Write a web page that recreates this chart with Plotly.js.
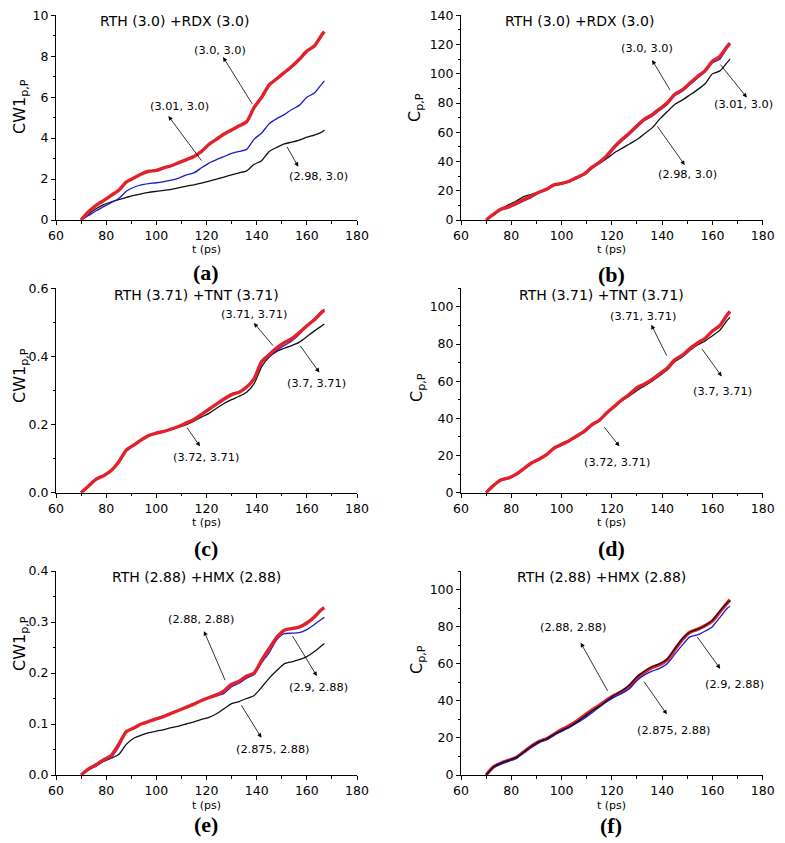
<!DOCTYPE html>
<html>
<head>
<meta charset="utf-8">
<script src="https://cdn.plot.ly/plotly-3.0.1.min.js"></script>
<style>html,body{margin:0;padding:0;background:#fff;} #chart{width:785px;height:843px;}</style>
</head>
<body>
<div id="chart"></div>
<script>
// ---- data (t in ps) ----
var t = [70,73,76,79,82,85,88,91,94,97,100,103,106,109,112,115,118,121,124,127,130,133,136,139,142,145,148,151,154,157,160,163,166,167];

// (a) CW1 p,P  RTH(3.0)+RDX(3.0)
var aRed   = [0,0.4,0.72,0.95,1.2,1.45,1.85,2.05,2.25,2.38,2.42,2.55,2.65,2.8,2.95,3.1,3.35,3.7,3.95,4.2,4.4,4.6,4.8,5.5,6.0,6.6,6.9,7.2,7.5,7.85,8.25,8.5,9.05,9.2];
var aBlue  = [0,0.22,0.45,0.65,0.85,1.05,1.4,1.6,1.72,1.78,1.82,1.88,1.95,2.05,2.2,2.3,2.55,2.78,2.95,3.1,3.25,3.35,3.45,3.95,4.25,4.7,4.95,5.15,5.4,5.6,6.0,6.2,6.65,6.8];
var aBlack = [0,0.3,0.55,0.75,0.88,1.0,1.1,1.2,1.28,1.35,1.4,1.45,1.5,1.58,1.66,1.72,1.8,1.9,2.0,2.1,2.2,2.3,2.4,2.72,2.9,3.35,3.55,3.72,3.8,3.9,4.05,4.15,4.3,4.4];
// (b) C p,P  RTH(3.0)+RDX(3.0)
var bRed   = [0,4,7.5,9,11.5,14,16.5,19,21,24,25,26.5,29,31.5,36,39.5,44,50,55,59.5,64.5,69,72,76,80,86,89,93.5,98,102,108.5,112,119,121];
var bBlue  = [0,3.5,7,8.5,10.5,13,15.5,18.5,20.5,23.5,24.5,26,28.5,31,35,39,43,49,54,58.5,63.5,68,71,75,79,85,88,92.5,97,101,107.5,110,118,119.5];
var bBlack = [0,4,7.5,10.5,13,16,17.5,19,21,23.5,24.5,26,28.5,31,35.5,38.5,42,46,49,52,55,59,63,69,74,79,82,85.5,89,93,100,102,108,110];
// (c) CW1 p,P  RTH(3.71)+TNT(3.71)
var cRed   = [0,0.02,0.04,0.05,0.065,0.09,0.125,0.14,0.155,0.168,0.175,0.18,0.187,0.195,0.205,0.215,0.23,0.245,0.26,0.275,0.288,0.295,0.31,0.335,0.385,0.405,0.425,0.44,0.452,0.47,0.49,0.508,0.53,0.535];
var cBlue  = [0,0.018,0.038,0.05,0.063,0.088,0.122,0.138,0.153,0.166,0.174,0.179,0.185,0.193,0.203,0.213,0.228,0.245,0.262,0.277,0.29,0.296,0.31,0.333,0.38,0.4,0.418,0.432,0.445,0.465,0.488,0.51,0.533,0.538];
var cBlack = [0,0.02,0.04,0.05,0.065,0.09,0.125,0.14,0.155,0.168,0.175,0.18,0.186,0.193,0.2,0.21,0.222,0.233,0.248,0.262,0.273,0.283,0.295,0.32,0.37,0.398,0.415,0.424,0.432,0.442,0.458,0.475,0.49,0.495];
// (d) C p,P  RTH(3.71)+TNT(3.71)
var dRed   = [0,4,7,8,10,13,16,18,20.5,24,26,28,30.5,33,36.5,39,43,46.5,50,53,56.5,58.5,61,64,67,71.5,74,77.5,80.5,83,87,90,96,97.5];
var dBlue  = [0,3.5,6.5,7.5,9.5,12.5,15.5,17.5,20,23.5,25.5,27.5,30,32.5,36,38.5,42.5,46,49.5,52.5,56,58,60.5,63.5,66.5,71,73.5,77,80,82.5,86.5,89.5,95.5,97.5];
var dBlack = [0,4,7,8,10,13,16,18,20.5,24,26,28,30.5,33,36.5,39,43,46,49.5,52,55,57.5,60,63,66,70.5,73,76.5,79.5,81.5,84.5,87.5,93,94.5];
// (e) CW1 p,P  RTH(2.88)+HMX(2.88)
var eRed   = [0,0.012,0.02,0.03,0.038,0.06,0.085,0.092,0.1,0.105,0.11,0.115,0.121,0.127,0.133,0.139,0.146,0.152,0.157,0.165,0.178,0.184,0.194,0.2,0.225,0.248,0.27,0.284,0.287,0.29,0.298,0.31,0.325,0.328];
var eBlue  = [0,0.01,0.018,0.027,0.035,0.055,0.085,0.092,0.1,0.105,0.11,0.115,0.121,0.127,0.133,0.139,0.146,0.151,0.155,0.16,0.173,0.18,0.19,0.197,0.22,0.24,0.265,0.277,0.278,0.279,0.285,0.295,0.306,0.309];
var eBlack = [0,0.01,0.018,0.027,0.033,0.04,0.06,0.072,0.078,0.083,0.086,0.089,0.093,0.096,0.1,0.104,0.109,0.113,0.12,0.13,0.14,0.144,0.15,0.156,0.172,0.19,0.205,0.218,0.222,0.226,0.232,0.242,0.254,0.258];
// (f) C p,P  RTH(2.88)+HMX(2.88)
var fRed   = [0,4.5,6.5,8,9.5,12.5,15.5,18,19.5,22,24.5,26.5,29,32,35,37.5,40.5,43,45,48,52.5,55.5,58,59.5,62,67.5,73,77,78.5,80.5,83,88,93,94.5];
var fBlue  = [0,4,6,7.5,9,12,15,17.5,19,21.5,23.5,25.5,28,30.5,33.5,36.5,39.5,42,44,46.5,51,54,56,57.5,60,65,70,74.5,75.5,77.5,80,85,90,91];
var fBlack = [0,4.5,6.5,8,9.5,12.5,15.5,18,19.5,22,24,26,28.5,31.5,34.5,37,40,43,45.5,48.5,53,56,58.5,60,62.5,68,73.5,77,78.5,80.5,83.5,88.5,93,94];

var panelTitles = ["RTH (3.0) +RDX (3.0)","RTH (3.0) +RDX (3.0)","RTH (3.71) +TNT (3.71)","RTH (3.71) +TNT (3.71)","RTH (2.88) +HMX (2.88)","RTH (2.88) +HMX (2.88)"];
var panelLetters = ["(a)","(b)","(c)","(d)","(e)","(f)"];
var yTitles = ["CW1<sub>p,P</sub>","C<sub>p,P</sub>","CW1<sub>p,P</sub>","C<sub>p,P</sub>","CW1<sub>p,P</sub>","C<sub>p,P</sub>"];
var xTitle = "t (ps)";
// curve labels: [text, head t, head v, tail t, tail v, label t, label v]
var labelsA = [["(3.0, 3.0)",126.6,7.96,139,5.52,125.2,8.3],["(3.01, 3.0)",104.8,5.08,118.8,2.77,109.4,5.53],["(2.98, 3.0)",156.6,2.6,151.3,3.75,164.8,2.12]];
var labelsB = [["(3.0, 3.0)",136,109.4,143.9,86.7,134,117.4],["(3.01, 3.0)",173.7,83.7,162.4,108,172.2,79.3],["(2.98, 3.0)",149,37.6,137.3,66,149.9,30.8]];
var labelsC = [["(3.71, 3.71)",138.9,0.498,147.3,0.425,139.1,0.5225],["(3.7, 3.71)",165,0.353,156.6,0.439,163.9,0.3205],["(3.72, 3.71)",117.4,0.136,111.4,0.2,119.6,0.102]];
var labelsD = [["(3.71, 3.71)",135.7,90.4,142.6,71.6,132.5,94.9],["(3.7, 3.71)",163.7,62.6,155.1,78.8,163.9,54.2],["(3.72, 3.71)",123,25,116.2,36.6,122.2,16.5]];
var labelsE = [["(2.88, 2.88)",119,0.282,128.1,0.178,117.7,0.305],["(2.9, 2.88)",164,0.194,153.5,0.279,164.6,0.171],["(2.875, 2.88)",141.9,0.073,133.1,0.143,146.5,0.0504]];
var labelsF = [["(2.88, 2.88)",107.6,71.3,119.1,43.5,104.5,79.4],["(2.9, 2.88)",163.1,57.3,153.2,75.9,168.8,48.7],["(2.875, 2.88)",141.9,32.7,132,51.9,144.8,23.9]];

// ---- styling / layout ----
var W = 785, H = 843;
function px(x){return x/W;}
function py(y){return 1-y/H;}
var RED = '#e3212b', BLUE = '#1a1acc', BLACK = '#111111';
var FONT = 'DejaVu Sans';

var series = [
  [aBlack,aBlue,aRed],[bBlack,bBlue,bRed],[cBlack,cBlue,cRed],
  [dBlack,dBlue,dRed],[eBlack,eBlue,eRed],[fRed,fBlue,fBlack]
];
var colorsOrder = [[BLACK,BLUE,RED],[BLACK,BLUE,RED],[BLACK,BLUE,RED],[BLACK,BLUE,RED],[BLACK,BLUE,RED],[RED,BLUE,BLACK]];

var traces = [];
series.forEach(function(set, i){
  var xa = i===0 ? 'x' : 'x'+(i+1);
  var ya = i===0 ? 'y' : 'y'+(i+1);
  set.forEach(function(vals, j){
    var c = colorsOrder[i][j];
    traces.push({
      x: t, y: vals, xaxis: xa, yaxis: ya, type: 'scatter', mode: 'lines',
      line: {color: c, width: c===RED ? 3.4 : 1.3, shape: 'spline', smoothing: 0.6},
      showlegend: false, hoverinfo: 'skip'
    });
  });
});

var leftX = [px(56), px(357)], rightX = [px(461), px(762.7)];
var rowsY = [[py(220), py(15.3)], [py(492.7), py(288.3)], [py(775), py(571)]];
var yRanges = [[0,10],[0,140],[0,0.6],[0,110],[0,0.4],[0,110]];
var yDt = [2,20,0.2,20,0.1,20];
var yMinor = [1,10,0.1,10,0.05,10];
var yFmt = ['', '', '.1f', '', '.1f', ''];

var layout = {
  width: W, height: H, margin: {l:0, r:0, t:0, b:0},
  paper_bgcolor: '#ffffff', plot_bgcolor: '#ffffff',
  showlegend: false, annotations: []
};

for (var i = 0; i < 6; i++) {
  var sfx = i===0 ? '' : String(i+1);
  var col = i % 2, row = Math.floor(i/2);
  layout['xaxis'+sfx] = {
    domain: col===0 ? leftX : rightX, anchor: 'y'+sfx,
    range: [60,180], tick0: 60, dtick: 20, showgrid: false, zeroline: false,
    showline: true, linecolor: '#000', linewidth: 1,
    ticks: 'outside', ticklen: 4, tickwidth: 1, tickcolor: '#000',
    minor: {ticks: 'outside', dtick: 10, ticklen: 2.5, tickcolor: '#000', tickwidth: 1},
    tickfont: {family: FONT, size: 12.5, color: '#000'}, fixedrange: true
  };
  layout['yaxis'+sfx] = {
    domain: rowsY[row], anchor: 'x'+sfx,
    range: yRanges[i], tick0: 0, dtick: yDt[i], tickformat: yFmt[i],
    showgrid: false, zeroline: false,
    showline: true, linecolor: '#000', linewidth: 1,
    ticks: 'outside', ticklen: 4, tickwidth: 1, tickcolor: '#000',
    minor: {ticks: 'outside', dtick: yMinor[i], ticklen: 2.5, tickcolor: '#000', tickwidth: 1},
    tickfont: {family: FONT, size: 12.5, color: '#000'}, fixedrange: true
  };
}

var titlePos = [[174.5,21],[579.7,21],[196.7,295],[601.7,295],[196.7,576.5],[601.7,576.5]];
var yTitlePos = [[20,107],[415,108],[20,376],[417,388],[20,644],[417,660]];
var xTitlePos = [[206,250],[611,250],[206,522],[611,522],[206,805],[611,805]];
var letterPos = [[206,272],[611,274],[206,548],[611,548],[206,824],[611,825]];
for (var k = 0; k < 6; k++) {
  layout.annotations.push({xref:'paper', yref:'paper', x: px(titlePos[k][0]), y: py(titlePos[k][1]),
    text: panelTitles[k], showarrow:false, xanchor:'center', yanchor:'middle',
    font:{family: FONT, size: 14, color:'#000'}});
  layout.annotations.push({xref:'paper', yref:'paper', x: px(yTitlePos[k][0]), y: py(yTitlePos[k][1]),
    text: yTitles[k], showarrow:false, xanchor:'center', yanchor:'middle', textangle: -90,
    font:{family: FONT, size: 16, color:'#000'}});
  layout.annotations.push({xref:'paper', yref:'paper', x: px(xTitlePos[k][0]), y: py(xTitlePos[k][1]),
    text: xTitle, showarrow:false, xanchor:'center', yanchor:'middle',
    font:{family: FONT, size: 11, color:'#000'}});
  layout.annotations.push({xref:'paper', yref:'paper', x: px(letterPos[k][0]), y: py(letterPos[k][1]),
    text: '<b>' + panelLetters[k] + '</b>', showarrow:false, xanchor:'center', yanchor:'middle',
    font:{family: 'Liberation Serif', size: 22, color:'#000'}});
}

// curve labels with arrows (arrow drawn from the curve point to near the label)
[labelsA,labelsB,labelsC,labelsD,labelsE,labelsF].forEach(function(list, i){
  var xa = i===0 ? 'x' : 'x'+(i+1);
  var ya = i===0 ? 'y' : 'y'+(i+1);
  list.forEach(function(L){
    layout.annotations.push({xref: xa, yref: ya, axref: xa, ayref: ya,
      x: L[1], y: L[2], ax: L[3], ay: L[4], text: ' ', showarrow: true,
      arrowhead: 2, arrowsize: 1.1, arrowwidth: 0.8, arrowcolor: '#000', standoff: 0,
      font:{family: FONT, size: 4}});
    layout.annotations.push({xref: xa, yref: ya, x: L[5], y: L[6], text: L[0],
      showarrow: false, xanchor:'center', yanchor:'middle',
      font:{family: FONT, size: 11.3, color:'#000'}});
  });
});

Plotly.newPlot('chart', traces, layout, {staticPlot: true, displayModeBar: false});
</script>
</body>
</html>
